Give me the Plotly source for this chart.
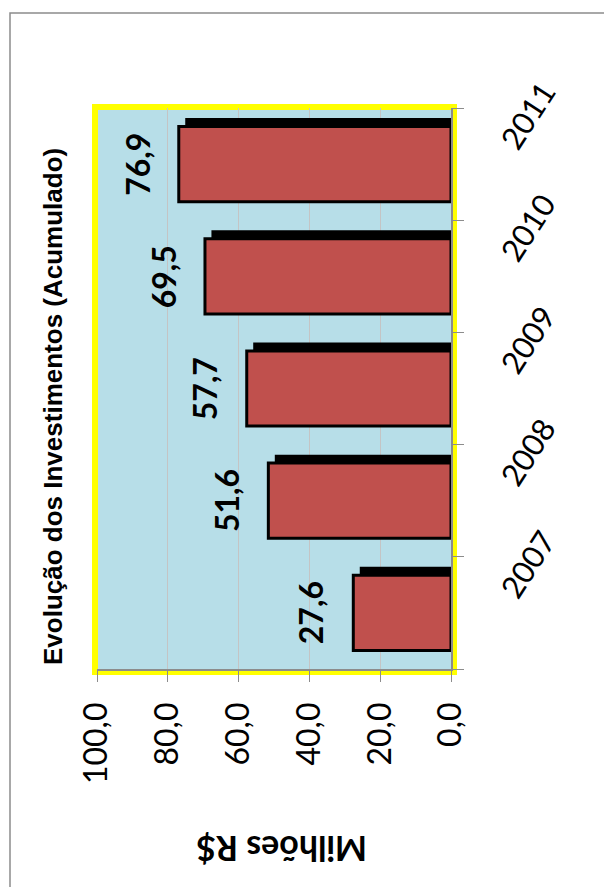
import plotly.graph_objects as go

# Accumulated investment per year (millions of R$)
years = ["2007", "2008", "2009", "2010", "2011"]
values = [27.6, 51.6, 57.7, 69.5, 76.9]
value_ticks = [0, 20, 40, 60, 80, 100]

W, H = 604, 887
L, R, T, B = 97, 153, 108, 218
PW, PH = W - L - R, H - T - B

BAR_W = 0.67
SHADOW_UP = 0.062      # shadow offset along the category axis
SHADOW_SHIFT = 2.25    # shadow offset along the value axis

def px_x(px):
    return (px - L) / PW

def px_y(py):
    return 1 - (py - T) / PH

fig = go.Figure()

# drop shadow behind each bar
fig.add_trace(go.Bar(
    y=years, x=values, base=-SHADOW_SHIFT, orientation="h",
    width=BAR_W, offset=-BAR_W / 2 + SHADOW_UP,
    marker=dict(color="#000000", line=dict(color="#000000", width=3)),
    hoverinfo="skip", showlegend=False,
))

# main bars
fig.add_trace(go.Bar(
    y=years, x=values, orientation="h",
    width=BAR_W, offset=-BAR_W / 2,
    marker=dict(color="#C0504D", line=dict(color="#000000", width=3)),
    showlegend=False,
))

# value labels just beyond each bar end (category axis positions are indices)
for i, v in enumerate(values):
    fig.add_annotation(
        x=v, y=i, xref="x", yref="y",
        text=f"{v:.1f}".replace(".", ","),
        textangle=-90, showarrow=False, xshift=-42,
        xanchor="center", yanchor="middle",
        font=dict(family="Lato", size=32, color="#000000", weight="bold"),
    )

# chart title
fig.add_annotation(
    x=px_x(53), y=px_y(407), xref="paper", yref="paper",
    xanchor="center", yanchor="middle",
    text="Evolução dos Investimentos (Acumulado)",
    textangle=-90, showarrow=False,
    font=dict(family="Liberation Sans", size=26, color="#000000", weight="bold"),
)

# value axis title
fig.add_annotation(
    x=px_x(282), y=px_y(850), xref="paper", yref="paper",
    xanchor="center", yanchor="middle",
    text="Milhões R$", textangle=180, showarrow=False,
    font=dict(family="Lato", size=34, color="#000000", weight="bold"),
)

# plot area fill with yellow frame
fig.add_shape(
    type="rect", xref="paper", yref="paper",
    x0=-2 / PW, x1=1 + 3 / PW, y0=-3 / PH, y1=1 + 1 / PH,
    line=dict(color="#FFFF00", width=6), fillcolor="#B7DEE8", layer="below",
)

# outer chart border
fig.add_shape(
    type="rect", xref="paper", yref="paper",
    x0=px_x(10), x1=px_x(610), y0=px_y(893), y1=px_y(13),
    line=dict(color="#8C8C8C", width=1.5), fillcolor="rgba(0,0,0,0)", layer="below",
)

fig.update_layout(
    width=W, height=H,
    margin=dict(l=L, r=R, t=T, b=B),
    paper_bgcolor="#FFFFFF", plot_bgcolor="rgba(0,0,0,0)",
    barmode="overlay", separators=",.",
    xaxis=dict(
        range=[100, 0], tickvals=value_ticks, tickformat=".1f",
        tickangle=-90, ticks="outside", ticklen=11, tickcolor="#8C8C8C", tickwidth=1,
        ticklabelstandoff=8,
        showline=True, linecolor="#8C8C8C", linewidth=1.5,
        showgrid=True, gridcolor="#C4C4C4", gridwidth=1, zeroline=False,
        tickfont=dict(family="Lato", size=32, color="#000000"),
    ),
    yaxis=dict(
        type="category", categoryorder="array", categoryarray=years,
        range=[-0.5, len(years) - 0.5], side="right",
        tickson="boundaries", ticks="outside", ticklen=11, tickcolor="#8C8C8C", tickwidth=1,
        showline=True, linecolor="#8C8C8C", linewidth=1.5, showgrid=False,
        tickangle=-57, ticklabelstandoff=46, ticklabelshift=-16,
        tickfont=dict(family="Lato", size=31, color="#000000"),
    ),
)

fig.write_html("out.html")
